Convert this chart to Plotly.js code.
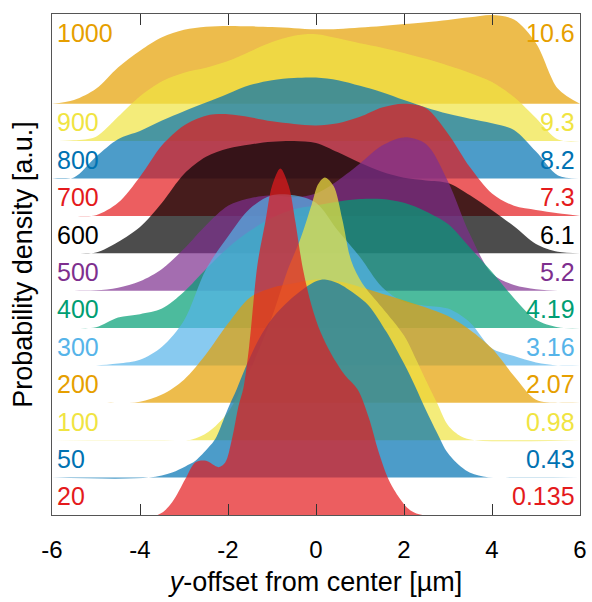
<!DOCTYPE html>
<html><head><meta charset="utf-8">
<script src="https://cdn.plot.ly/plotly-3.0.1.min.js"></script>
<style>html,body{margin:0;padding:0;background:#fff}</style>
</head><body><div id="chart" style="width:592px;height:602px"></div>
<script>
// common x grid (µm) for the smoother curves
const xGrid = [-6,-5.5,-5,-4.5,-4,-3.5,-3,-2.5,-2,-1.5,-1,-0.5,0,0.5,1,1.5,2,2.5,3,3.5,4,4.5,5,5.5,6];

const d1000 = [0,0.1,0.4,0.97,1.42,1.78,1.98,2.06,2.08,2.07,2.05,2.02,1.99,2.0,2.04,2.08,2.13,2.18,2.24,2.31,2.37,2.25,1.62,0.4,0];
const d900  = [0,0.02,0.12,0.65,1.2,1.6,1.83,1.96,2.14,2.4,2.65,2.82,2.86,2.75,2.62,2.5,2.36,2.2,2.02,1.82,1.58,1.18,0.62,0.04,0];
const d800  = [0,0.03,0.58,1.05,1.27,1.55,1.8,2.03,2.27,2.5,2.63,2.69,2.7,2.63,2.48,2.31,2.1,1.9,1.73,1.6,1.48,1.3,0.72,0.08,0];
const d700  = [0,0,0.02,0.35,1.05,1.89,2.42,2.68,2.72,2.64,2.53,2.46,2.42,2.48,2.65,2.9,3.0,2.88,2.2,1.3,0.6,0.27,0.16,0.07,0];
const d600  = [0,0,0.02,0.3,0.7,1.35,2.12,2.58,2.8,2.91,2.98,3.0,2.95,2.7,2.42,2.18,2.02,1.95,1.88,1.55,1.15,0.72,0.25,0.04,0];
const d500  = [0,0,0.01,0.08,0.25,0.58,1.12,1.75,2.27,2.47,2.55,2.5,2.6,2.95,3.4,3.88,4.1,3.92,2.92,1.5,0.46,0.15,0.04,0,0];
const d400  = [0,0,0.02,0.28,0.37,0.52,0.97,1.58,2.15,2.6,2.95,3.18,3.28,3.38,3.45,3.45,3.35,3.12,2.78,2.15,1.5,0.8,0.22,0.02,0];
const d300  = [0,0,0,0.05,0.15,0.5,1.2,2.57,3.45,4.2,4.55,4.55,4.35,3.6,2.9,2.1,1.7,1.6,1.52,1.15,0.45,0.25,0.08,0,0];
const d200  = [0,0,0,0,0.03,0.22,0.62,1.3,2.12,2.82,3.08,3.2,3.3,3.25,3.1,2.92,2.74,2.55,2.32,1.95,1.45,0.72,0.08,0,0];

const x100 = [-6,-3.2,-2.82,-2.45,-2,-1.54,-1,-0.66,-0.35,-0.1,0.05,0.2,0.4,0.6,0.8,1.05,1.5,2.0,2.3,2.5,2.75,3.0,3.3,3.6,6];
const d100 = [0,0,0.02,0.22,0.75,1.77,3.3,4.5,5.4,6.3,6.85,7.03,6.8,5.9,4.8,4.2,3.55,2.8,2.1,1.6,1.0,0.4,0.1,0,0];

const x50 = [-6,-3.8,-3.27,-2.97,-2.74,-2.44,-2.29,-2.0,-1.8,-1.6,-1.3,-1.0,-0.5,0,0.2,0.5,0.9,1.2,1.6,2.0,2.25,2.5,2.75,3.0,3.4,3.8,4.3,6];
const d50 = [0,0,0.14,0.3,0.45,0.81,1.03,1.85,2.37,2.95,3.7,4.25,4.85,5.25,5.3,5.2,4.9,4.6,3.9,3.05,2.45,1.8,1.2,0.65,0.2,0.03,0,0];

const x20 = [-6,-3.6,-3.27,-2.97,-2.74,-2.5,-2.21,-2.06,-1.91,-1.76,-1.65,-1.52,-1.33,-1.15,-1.0,-0.81,-0.62,-0.47,-0.3,-0.1,0.1,0.35,0.65,0.95,1.2,1.42,1.65,1.9,2.12,2.42,6];
const d20 = [0,0,0.34,0.96,1.41,1.45,1.28,1.41,2.03,2.92,3.4,4.5,6.7,7.85,8.8,9.27,8.8,7.85,6.6,5.6,4.9,4.3,3.75,3.35,2.6,1.7,0.95,0.45,0.15,0,0];

// row labels (bottom row first)
const leftLabels  = ['20','50','100','200','300','400','500','600','700','800','900','1000'];
const rightLabels = ['0.135','0.43','0.98','2.07','3.16','4.19','5.2','6.1','7.3','8.2','9.3','10.6'];
const rowColors   = ['#E41A1C','#0072B2','#F0E442','#E69F00','#56B4E9','#009E73','#7E2F8E','#000000','#E41A1C','#0072B2','#F0E442','#E69F00'];

const tickVals = [-6,-4,-2,0,2,4,6];
const tickText = ['-6','-4','-2','0','2','4','6'];

const series = [
  {x: x20, d: d20}, {x: x50, d: d50}, {x: x100, d: d100}, {x: xGrid, d: d200},
  {x: xGrid, d: d300}, {x: xGrid, d: d400}, {x: xGrid, d: d500}, {x: xGrid, d: d600},
  {x: xGrid, d: d700}, {x: xGrid, d: d800}, {x: xGrid, d: d900}, {x: xGrid, d: d1000}
];

function rgba(hex, a) {
  const n = parseInt(hex.slice(1), 16);
  return 'rgba(' + ((n >> 16) & 255) + ',' + ((n >> 8) & 255) + ',' + (n & 255) + ',' + a + ')';
}

const FONT = 'Liberation Sans, Arial, Helvetica, sans-serif';
const traces = [];
for (let k = series.length - 1; k >= 0; k--) {
  const s = series[k];
  traces.push({
    type: 'scatter', mode: 'lines',
    x: s.x, y: s.d.map(v => v + k),
    fill: 'toself', fillcolor: rgba(rowColors[k], 0.7),
    line: {width: 0, shape: 'spline', smoothing: 0.9, color: rgba(rowColors[k], 0)},
    hoverinfo: 'skip', showlegend: false
  });
}

const annotations = [];
leftLabels.forEach((t, k) => {
  const y = (k === leftLabels.length - 1) ? 12.9 : k + 0.5;
  annotations.push({xref: 'paper', yref: 'y', x: 0, y: y, xanchor: 'left', yanchor: 'middle', xshift: 3,
    text: t, showarrow: false, font: {family: FONT, size: 25, color: rowColors[k]}});
  annotations.push({xref: 'paper', yref: 'y', x: 1, y: y, xanchor: 'right', yanchor: 'middle', xshift: -3,
    text: rightLabels[k], showarrow: false, font: {family: FONT, size: 25, color: rowColors[k]}});
});

const layout = {
  width: 592, height: 602,
  margin: {l: 52, r: 12, t: 14, b: 87},
  paper_bgcolor: '#fff', plot_bgcolor: '#fff',
  font: {family: FONT, color: '#000'},
  showlegend: false,
  xaxis: {
    range: [-6, 6], tickvals: tickVals, ticktext: tickText,
    ticks: 'inside', ticklen: 11, tickwidth: 1, tickcolor: '#333',
    showline: true, linecolor: '#555', linewidth: 1, mirror: 'ticks',
    showgrid: false, zeroline: false,
    tickfont: {family: FONT, size: 24, color: '#000'},
    ticklabelstandoff: 13,
    title: {text: '<i>y</i>-offset from center [µm]', font: {family: FONT, size: 27, color: '#000'}, standoff: 10}
  },
  yaxis: {
    range: [0, 13.4], showticklabels: false, ticks: '',
    showline: true, linecolor: '#555', linewidth: 1, mirror: true,
    showgrid: false, zeroline: false,
    title: {text: 'Probability density [a.u.]', font: {family: FONT, size: 27, color: '#000'}, standoff: 10}
  },
  annotations: annotations
};

Plotly.newPlot('chart', traces, layout, {displayModeBar: false, staticPlot: true});
</script></body></html>
